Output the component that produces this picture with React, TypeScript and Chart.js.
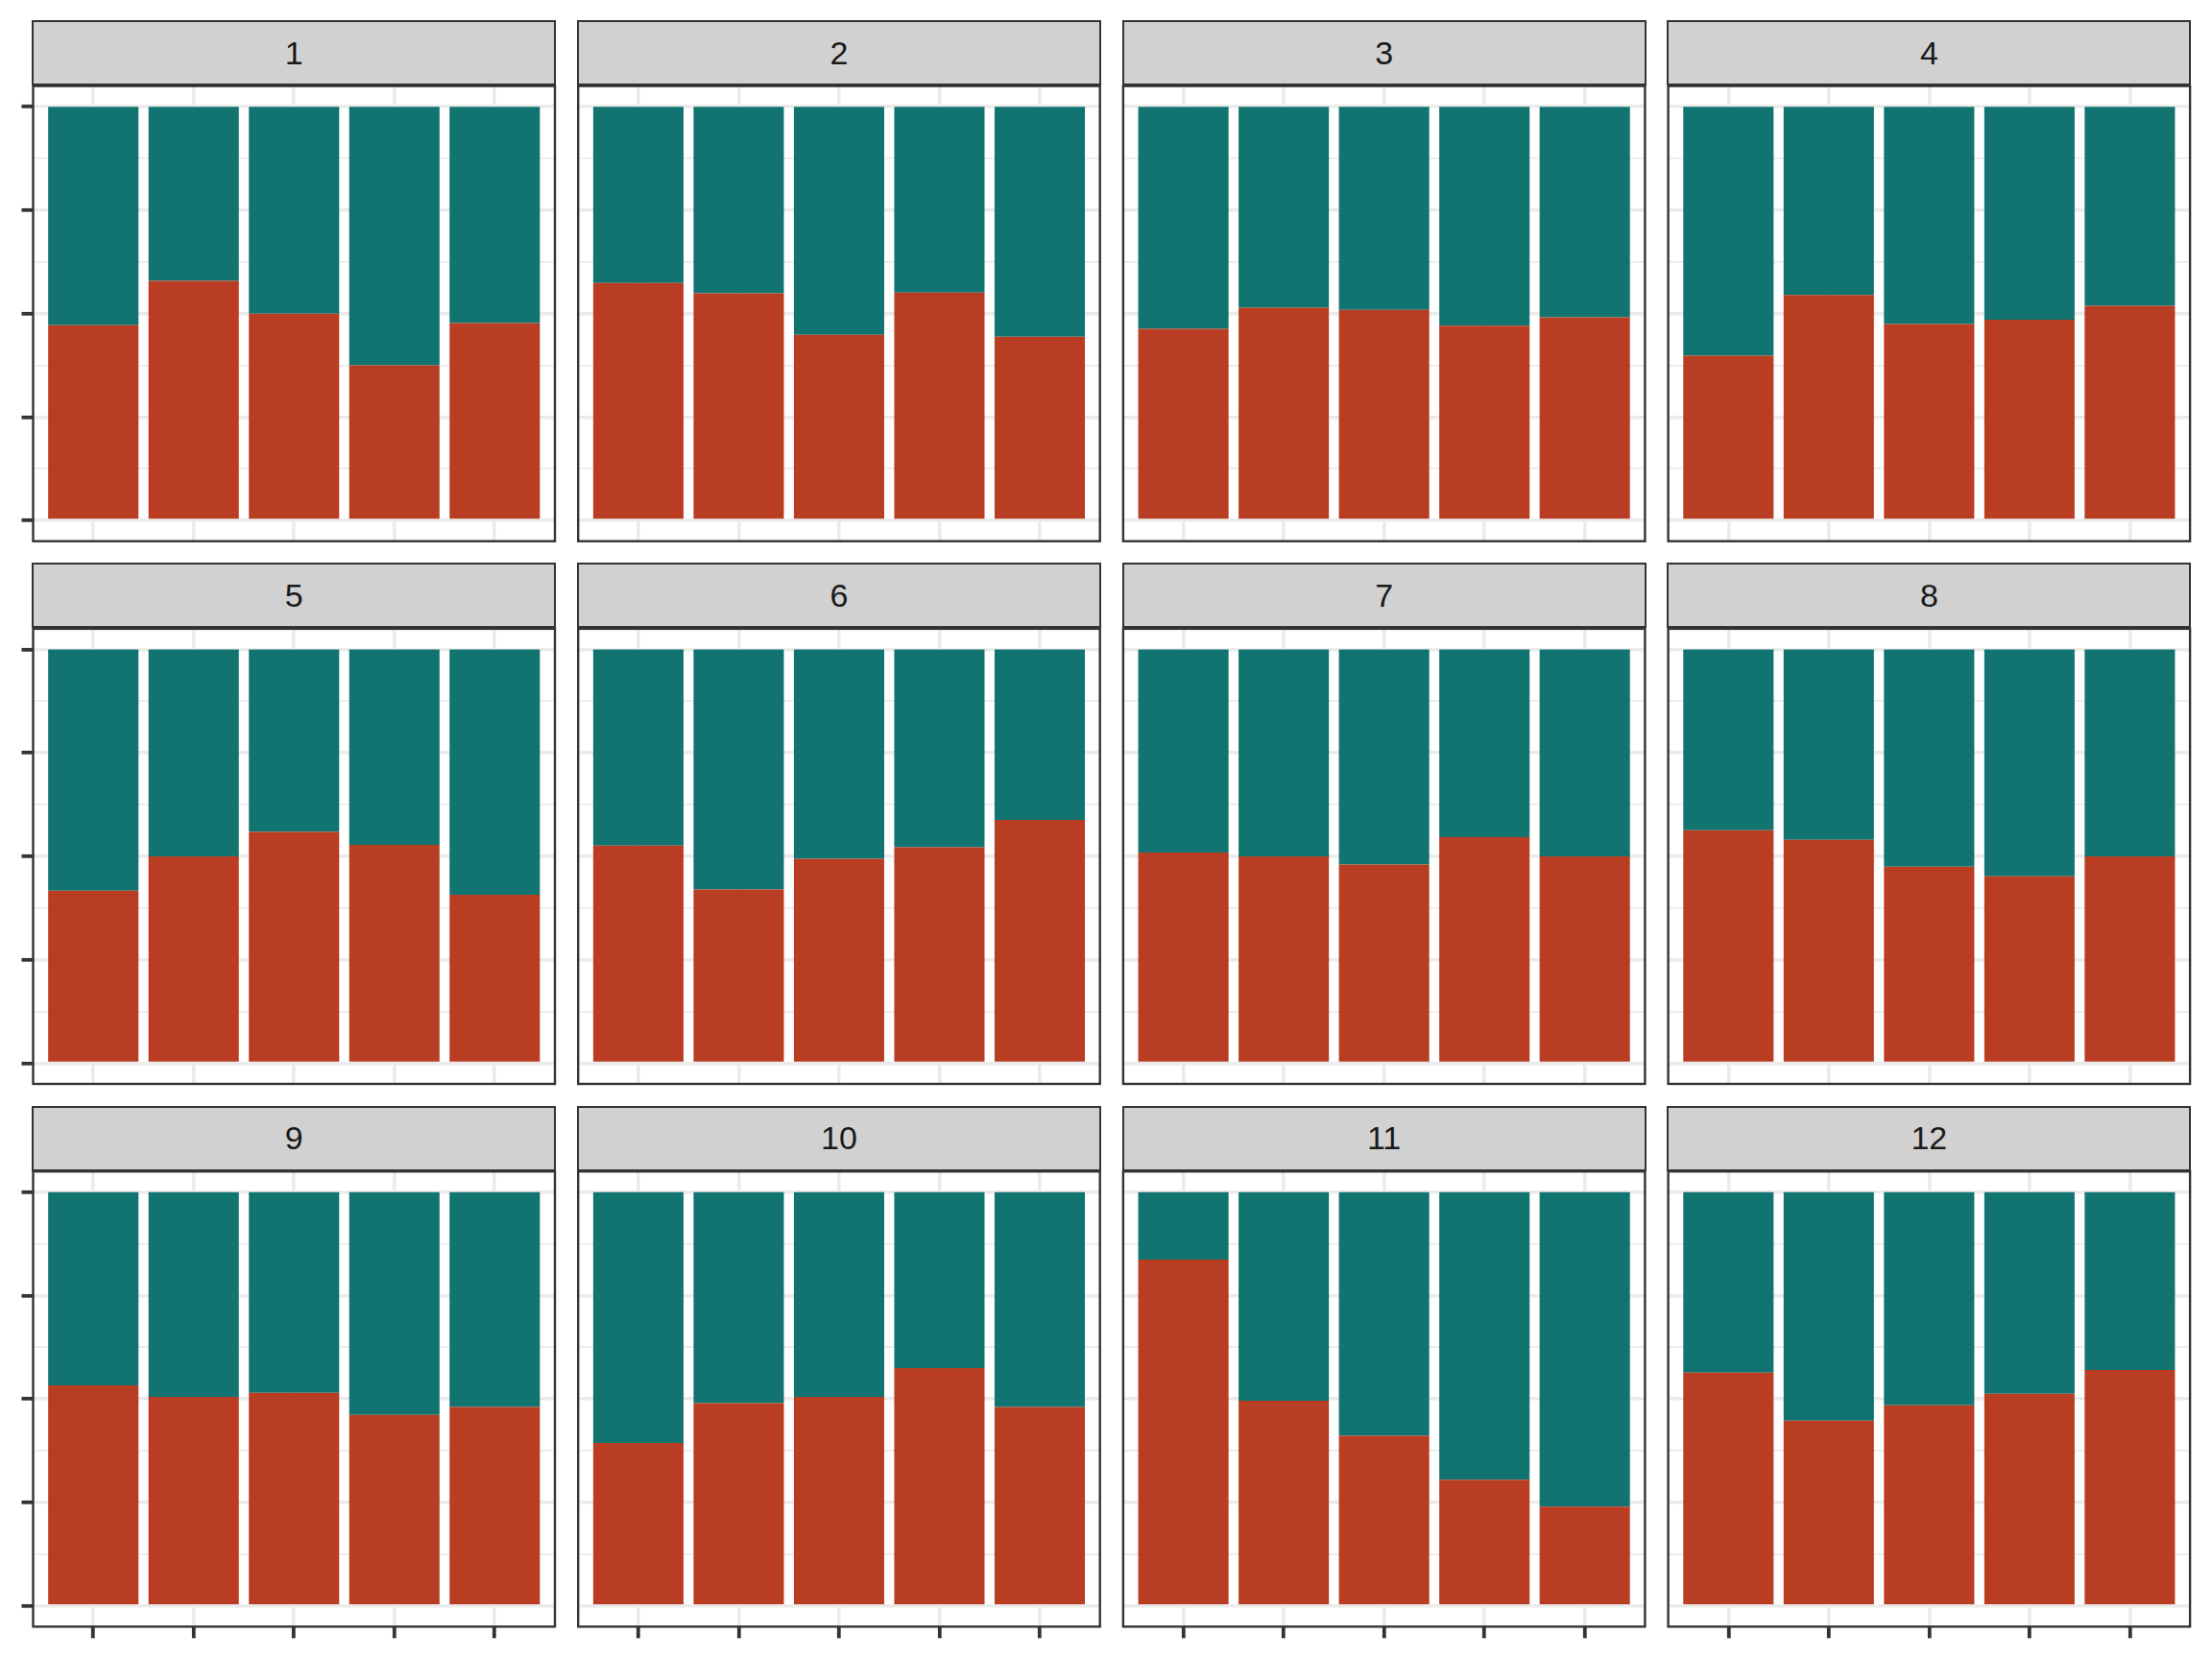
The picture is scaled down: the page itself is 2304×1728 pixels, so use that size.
import React, { useEffect, useRef } from "react";
import { Chart, registerables } from "chart.js";

Chart.register(...registerables);

// facet labels
const panels = ["1", "2", "3", "4", "5", "6", "7", "8", "9", "10", "11", "12"];
// x positions of the five bars in every facet
const categories = [1, 2, 3, 4, 5];
// y gridline positions (major every 0.25, minor between)
const yTicks = [0, 0.125, 0.25, 0.375, 0.5, 0.625, 0.75, 0.875, 1];

// share of the lower (red) segment of each bar
const red1 = [0.472, 0.579, 0.5, 0.375, 0.477];
const red2 = [0.574, 0.549, 0.449, 0.551, 0.444];
const red3 = [0.463, 0.514, 0.509, 0.471, 0.491];
const red4 = [0.398, 0.545, 0.475, 0.485, 0.519];
const red5 = [0.417, 0.5, 0.559, 0.528, 0.407];
const red6 = [0.526, 0.42, 0.494, 0.522, 0.588];
const red7 = [0.509, 0.5, 0.48, 0.546, 0.5];
const red8 = [0.563, 0.54, 0.475, 0.452, 0.5];
const red9 = [0.533, 0.505, 0.515, 0.462, 0.481];
const red10 = [0.394, 0.49, 0.505, 0.575, 0.481];
const red11 = [0.837, 0.496, 0.411, 0.305, 0.24];
const red12 = [0.564, 0.448, 0.485, 0.513, 0.57];
const redShares = [red1, red2, red3, red4, red5, red6, red7, red8, red9, red10, red11, red12];

const RED = "#B93D22";
const TEAL = "#117470";
const GRID = "#EBEBEB";
const DARK = "#333333";

// page geometry (px)
const COL_LEFT = [34.5, 602.2, 1169.9, 1737.6];
const ROW_TOP = [22.2, 587.5, 1152.8];
const PANEL_W = 543.5;
const STRIP_H = 65.6;
const PANEL_TOP = 67.4;
const PANEL_BOTTOM = 541.5;
const TICK = 12;
const M = 6;

const isMajor = (v: number) => Math.abs(v * 4 - Math.round(v * 4)) < 1e-6;

const panelBorder = {
  id: "panelBorder",
  afterDraw(chart: any) {
    const { ctx, chartArea: a } = chart;
    ctx.save();
    ctx.strokeStyle = DARK;
    ctx.lineWidth = 2.4;
    ctx.strokeRect(a.left, a.top, a.right - a.left, a.bottom - a.top);
    ctx.restore();
  },
};

function Panel({ index }: { index: number }) {
  const canvasRef = useRef<HTMLCanvasElement | null>(null);
  const col = index % 4;
  const row = Math.floor(index / 4);

  const left = COL_LEFT[col];
  const right = left + PANEL_W;
  const top = ROW_TOP[row] + PANEL_TOP;
  const bottom = ROW_TOP[row] + PANEL_BOTTOM;

  const cLeft = Math.floor(left) - TICK - M;
  const cTop = Math.floor(top) - M;
  const cRight = Math.ceil(right) + M;
  const cBottom = Math.ceil(bottom) + TICK + M;

  useEffect(() => {
    const ctx = canvasRef.current?.getContext("2d");
    if (!ctx) return;
    const red = redShares[index];
    const teal = red.map((v) => 1 - v);

    const chart = new Chart(ctx, {
      type: "bar",
      data: {
        datasets: [
          {
            data: categories.map((c, i) => ({ x: c, y: red[i] })),
            backgroundColor: RED,
            borderWidth: 0,
            barPercentage: 0.9,
            categoryPercentage: 1,
          },
          {
            data: categories.map((c, i) => ({ x: c, y: teal[i] })),
            backgroundColor: TEAL,
            borderWidth: 0,
            barPercentage: 0.9,
            categoryPercentage: 1,
          },
        ],
      },
      options: {
        animation: false,
        responsive: false,
        devicePixelRatio: 1,
        layout: {
          padding: {
            left: left - TICK - cLeft,
            right: cRight - right,
            top: top - cTop,
            bottom: cBottom - TICK - bottom,
          },
        },
        plugins: {
          legend: { display: false },
          tooltip: { enabled: false },
        },
        scales: {
          x: {
            type: "linear",
            position: "bottom",
            stacked: true,
            offset: false,
            min: 0.4,
            max: 5.6,
            afterBuildTicks: (scale: any) => {
              scale.ticks = categories.map((v) => ({ value: v }));
            },
            ticks: { display: false },
            border: { display: false },
            grid: {
              offset: false,
              color: GRID,
              lineWidth: 3.6,
              drawTicks: true,
              tickLength: TICK,
              tickWidth: 3.8,
              tickColor: row === 2 ? DARK : "rgba(0,0,0,0)",
            },
          },
          y: {
            type: "linear",
            position: "left",
            stacked: true,
            min: -0.05,
            max: 1.05,
            afterBuildTicks: (scale: any) => {
              scale.ticks = yTicks.map((v) => ({ value: v }));
            },
            ticks: { display: false },
            border: { display: false },
            grid: {
              color: GRID,
              lineWidth: (c: any) => (isMajor(c.tick.value) ? 3.6 : 1.8),
              drawTicks: true,
              tickLength: TICK,
              tickWidth: 3.8,
              tickColor: (c: any) =>
                col === 0 && isMajor(c.tick.value) ? DARK : "rgba(0,0,0,0)",
            },
          },
        },
      },
      plugins: [panelBorder],
    } as any);

    return () => {
      chart.destroy();
    };
  }, [index]);

  return (
    <>
      <canvas
        ref={canvasRef}
        width={cRight - cLeft}
        height={cBottom - cTop}
        style={{
          position: "absolute",
          left: cLeft,
          top: cTop,
          width: cRight - cLeft,
          height: cBottom - cTop,
        }}
      />
      <div
        style={{
          position: "absolute",
          left: left - 1.2,
          top: ROW_TOP[row] - 1.2,
          width: PANEL_W + 2.4,
          height: STRIP_H + 2.4,
          boxSizing: "border-box",
          border: `2.4px solid ${DARK}`,
          background: "#D1D1D1",
          display: "flex",
          alignItems: "center",
          justifyContent: "center",
          fontFamily: "'Liberation Sans', Arial, sans-serif",
          fontSize: 34,
          color: "#1A1A1A",
        }}
      >
        {panels[index]}
      </div>
    </>
  );
}

export default function App() {
  return (
    <div
      style={{
        position: "absolute",
        left: 0,
        top: 0,
        width: 2304,
        height: 1728,
        background: "#FFFFFF",
        overflow: "hidden",
      }}
    >
      {panels.map((_, i) => (
        <Panel key={i} index={i} />
      ))}
    </div>
  );
}
